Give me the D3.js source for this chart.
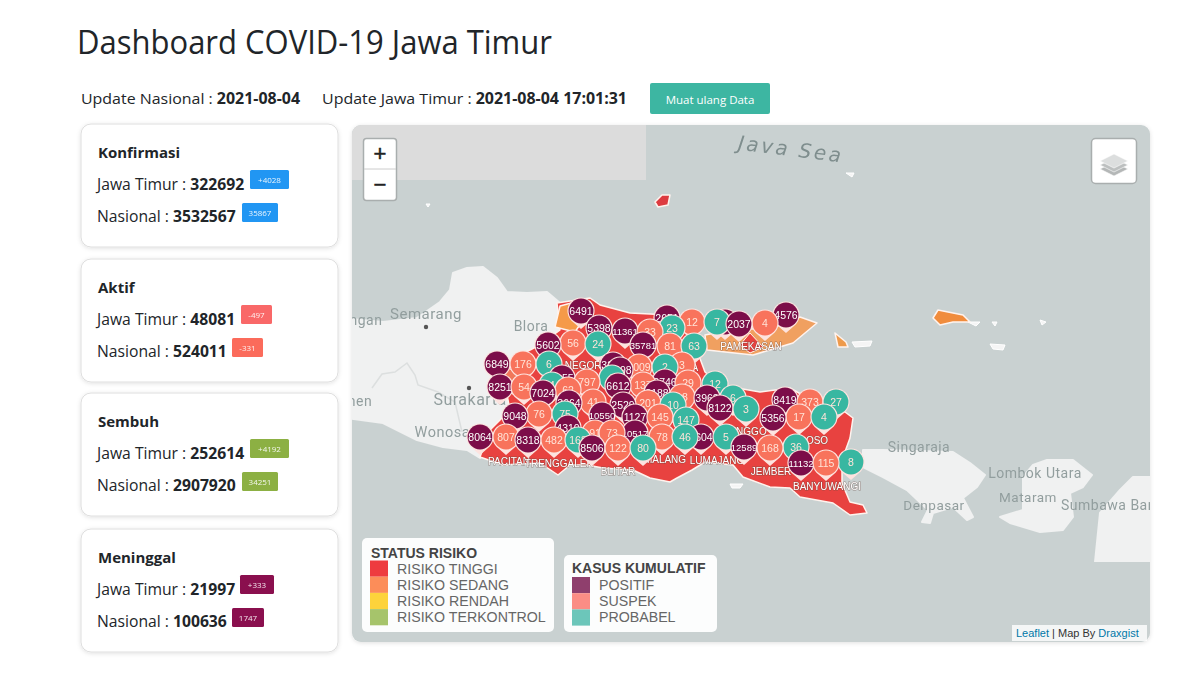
<!DOCTYPE html>
<html><head><meta charset="utf-8">
<script src="https://cdn.jsdelivr.net/npm/d3@7/dist/d3.min.js"></script>
<style>html,body{margin:0;padding:0;background:#fff}svg{display:block}</style>
</head><body><svg id="c" width="1200" height="675"></svg>
<script>
// ---------- dashboard data ----------
const cardTitles=["Konfirmasi","Aktif","Sembuh","Meninggal"];
const jatimValues=[322692,48081,252614,21997];
const nasionalValues=[3532567,524011,2907920,100636];
const jatimDeltas=["+4028","-497","+4192","+333"];
const nasionalDeltas=["35867","-331","34251","1747"];
const riskLabels=["RISIKO TINGGI","RISIKO SEDANG","RISIKO RENDAH","RISIKO TERKONTROL"];
const caseLabels=["POSITIF","SUSPEK","PROBABEL"];

// ---------- markers: [lon, lat, cumulative value] ----------
const positif=[[111.81,-6.69,6491],[111.99,-6.86,5398],[112.25,-6.89,11361],[112.43,-7.03,35781],[111.48,-7.03,5602],[110.97,-7.22,6849],[111.00,-7.45,8251],[111.43,-7.51,7024],[111.62,-7.36,4155],[112.13,-7.23,3274],[112.20,-7.28,4098],[112.18,-7.44,6612],[112.65,-7.40,2746],[112.23,-7.63,2529],[111.15,-7.74,9048],[111.69,-7.61,3664],[112.02,-7.73,10550],[112.57,-7.51,2188],[112.35,-7.75,1127],[112.67,-6.76,2651],[113.25,-6.80,2260],[113.39,-6.82,2037],[113.86,-6.73,4576],[113.07,-7.56,3962],[113.20,-7.66,8122],[113.85,-7.58,8419],[113.73,-7.76,5356],[110.80,-7.95,8064],[111.28,-7.98,8318],[111.92,-8.06,8506],[112.35,-7.91,10517],[113.01,-7.95,6604],[113.44,-8.05,12589],[114.01,-8.21,11132],[111.68,-7.86,4310]];
const suspek=[[112.50,-6.90,33],[111.73,-7.01,56],[112.70,-7.04,81],[111.23,-7.22,176],[112.39,-7.25,3009],[112.82,-7.23,3],[111.24,-7.45,54],[111.87,-7.40,797],[112.43,-7.43,137],[111.39,-7.72,76],[111.68,-7.48,62],[111.93,-7.60,41],[112.48,-7.61,201],[112.60,-7.75,145],[112.92,-6.80,12],[112.88,-7.41,29],[112.82,-7.55,18],[113.65,-6.81,4],[114.10,-7.60,373],[113.99,-7.75,17],[111.06,-7.95,807],[111.54,-7.98,482],[111.95,-7.91,91],[112.12,-7.91,73],[112.18,-8.06,122],[112.62,-7.95,78],[113.70,-8.06,168],[114.26,-8.21,115]];
const probabel=[[112.72,-6.86,23],[111.98,-7.02,24],[111.49,-7.22,6],[112.65,-7.25,2],[112.94,-7.04,63],[111.52,-7.43,4],[112.12,-7.36,9],[111.65,-7.72,75],[112.73,-7.63,10],[113.17,-6.80,7],[113.15,-7.42,12],[113.33,-7.56,6],[113.46,-7.67,3],[114.36,-7.60,27],[114.24,-7.75,4],[112.86,-7.78,147],[112.85,-7.95,46],[113.26,-7.95,5],[113.96,-8.05,36],[114.51,-8.20,8],[111.78,-7.98,168],[112.43,-8.06,80]];

// ---------- geography: [lon, lat] rings ----------
const centralJava=[[109.40,-6.76],[109.83,-6.80],[110.17,-6.76],[110.40,-6.60],[110.50,-6.48],[110.53,-6.31],[110.67,-6.26],[110.83,-6.25],[110.97,-6.36],[111.07,-6.50],[111.27,-6.51],[111.47,-6.50],[111.60,-6.61],[111.60,-7.58],[110.80,-8.16],[110.67,-8.08],[110.43,-8.05],[110.17,-7.98],[109.83,-7.81],[109.40,-7.75]];
const eastJava=[[111.57,-6.61],[111.90,-6.56],[112.00,-6.63],[112.30,-6.71],[112.70,-6.73],[112.90,-6.80],[112.95,-7.03],[113.05,-7.30],[113.20,-7.43],[113.60,-7.50],[113.90,-7.46],[114.20,-7.63],[114.45,-7.70],[114.53,-7.76],[114.50,-7.96],[114.42,-8.18],[114.42,-8.41],[114.50,-8.60],[114.63,-8.63],[114.67,-8.71],[114.50,-8.73],[114.33,-8.61],[114.00,-8.55],[113.90,-8.46],[113.70,-8.45],[113.43,-8.35],[113.33,-8.23],[113.05,-8.20],[112.92,-8.28],[112.77,-8.36],[112.70,-8.40],[112.50,-8.36],[112.33,-8.28],[112.03,-8.26],[111.87,-8.23],[111.70,-8.23],[111.58,-8.33],[111.40,-8.21],[111.03,-8.23],[110.80,-8.15],[110.90,-7.88],[111.10,-7.68],[111.05,-7.43],[111.10,-7.18],[111.40,-7.03],[111.60,-6.88]];
const tuban=[[111.60,-6.64],[111.75,-6.60],[111.85,-6.75],[111.75,-6.90],[111.55,-6.85]];
const ngawi=[[111.05,-7.25],[111.25,-7.33],[111.18,-7.55],[111.00,-7.45]];
const madura=[[113.07,-7.08],[113.53,-7.13],[113.93,-7.01],[114.17,-6.81],[114.00,-6.75],[113.73,-6.86],[113.30,-6.88],[113.05,-6.93]];
const pamekasan=[[113.50,-6.91],[113.63,-7.05],[113.50,-7.11],[113.40,-7.03]];
const bawean=[[112.55,-5.60],[112.62,-5.53],[112.70,-5.53],[112.68,-5.63],[112.58,-5.65]];
const kangean=[[115.33,-6.76],[115.38,-6.68],[115.63,-6.73],[115.70,-6.80],[115.53,-6.80],[115.40,-6.83]];
const sapudi=[[114.35,-6.91],[114.46,-7.00],[114.48,-7.05],[114.38,-7.05]];
const bali=[[114.63,-8.08],[114.83,-8.08],[115.53,-8.10],[115.70,-8.21],[115.85,-8.33],[115.77,-8.45],[115.63,-8.56],[115.73,-8.75],[115.67,-8.78],[115.53,-8.65],[115.33,-8.71],[115.30,-8.81],[115.22,-8.80],[115.28,-8.68],[115.07,-8.48],[114.83,-8.35],[114.63,-8.25]];
const lombok=[[116.47,-8.18],[116.73,-8.18],[116.92,-8.33],[116.83,-8.45],[116.70,-8.51],[116.73,-8.75],[116.63,-8.88],[116.40,-8.90],[116.10,-8.81],[116.00,-8.75],[116.23,-8.68],[116.23,-8.35],[116.33,-8.23]];
const sumbawa=[[117.33,-8.35],[117.70,-8.35],[117.70,-9.20],[116.95,-9.20],[117.00,-8.71],[117.20,-8.48]];
const smallIslands=[[[114.52,-7.00],[114.72,-6.99],[114.70,-7.04],[114.55,-7.05]],[[115.68,-6.80],[115.80,-6.80],[115.76,-6.84]],[[115.90,-7.02],[116.05,-7.03],[116.03,-7.08],[115.93,-7.07]],[[115.92,-6.80],[115.97,-6.80],[115.95,-6.84]],[[116.40,-6.78],[116.46,-6.80],[116.42,-6.83]],[[113.30,-8.42],[113.43,-8.42],[113.40,-8.46],[113.32,-8.46]],[[114.46,-5.31],[114.54,-5.31],[114.52,-5.35]],[[110.26,-5.62],[110.30,-5.62],[110.28,-5.65]]];
const provinceLine=[[109.72,-7.46],[109.82,-7.32],[109.95,-7.30],[110.07,-7.21],[110.15,-7.33],[110.18,-7.43],[110.38,-7.50],[110.55,-7.60],[110.62,-7.90]];
const cityNames=["ngan","Semarang","Blora","Surakarta","nen","Wonosari","Singaraja","Lombok Utara","Mataram","Sumbawa Bar","Denpasar"];
const cityLons=[109.66,110.26,111.31,110.70,109.60,110.47,115.19,116.35,116.28,117.07,115.34];
const cityLats=[-6.78,-6.72,-6.84,-7.58,-7.59,-7.90,-8.05,-8.31,-8.55,-8.63,-8.63];
const citySizes=[14,15,14,16,14,14.5,14,14,13.5,14,13.5];
const cityDots=[[110.26,-6.85],[110.69,-7.46]];
const regionNames=["PACITAN","TRENGGALEK","BLITAR","MALANG","LUMAJANG","JEMBER","BANYUWANGI","PAMEKASAN","NEGORO","INGGO","OSO","VA"];
const regionLons=[111.09,111.59,112.18,112.65,113.17,113.71,114.27,113.51,111.87,113.50,114.17,112.92];
const regionLats=[-8.20,-8.22,-8.30,-8.18,-8.19,-8.30,-8.45,-7.05,-7.24,-7.90,-7.99,-7.26];

// ---------- styles ----------
const F='"Open Sans",sans-serif', A='"Liberation Sans",Arial,sans-serif', R='Roboto,sans-serif';
const deltaColours=["#2196f3","#f96868","#8cb043","#8a0f4e"];
const riskColours=["#ee3b3f","#fc8d59","#fdd33b","#a6c46b"];
const caseColours=["#8f3f6d","#fb8d85","#6cc6ba"];
const pinColours={positif:"#7b1148",suspek:"#f8735c",probabel:"#37b7a1"};

const svg=d3.select("#c");
const x=d3.scaleLinear([110,116],[400,1000]);
const y=d3.scaleLinear([-6,-9],[242,542]);
const ring=d3.line().x(d=>x(d[0])).y(d=>y(d[1])).curve(d3.curveLinearClosed);
const open=d3.line().x(d=>x(d[0])).y(d=>y(d[1]));

function text(g,t,px,py,o={}){
  const n=g.append("text").attr("x",px).attr("y",py).text(t)
    .attr("font-family",o.f||F).attr("font-size",o.s||15).attr("fill",o.c||"#212529")
    .attr("font-weight",o.w||400).attr("text-anchor",o.a||"start");
  if(o.len) n.attr("textLength",o.len).attr("lengthAdjust","spacingAndGlyphs");
  return n;
}

// header
text(svg,"Dashboard COVID-19 Jawa Timur",77,54,{s:32,len:475});
function update(px,label,val,len){
  const t=text(svg,label,px,104,{s:15.2,len});
  t.append("tspan").attr("font-weight",700).text(val);
}
update(81,"Update Nasional : ","2021-08-04",219);
update(322,"Update Jawa Timur : ","2021-08-04 17:01:31",305);
svg.append("rect").attr("x",650).attr("y",83).attr("width",120).attr("height",31).attr("rx",2).attr("fill","#3db6a2");
text(svg,"Muat ulang Data",710,104,{s:11.5,c:"#fff",a:"middle"});

// cards
const defs=svg.append("defs");
const sh=defs.append("filter").attr("id","sh").attr("x","-10%").attr("y","-10%").attr("width","120%").attr("height","120%");
sh.append("feDropShadow").attr("dx",0).attr("dy",1).attr("stdDeviation",2).attr("flood-color","#000").attr("flood-opacity",.12);
defs.append("filter").attr("id","soft").attr("x","0").attr("y","0").attr("width","100%").attr("height","100%")
  .append("feGaussianBlur").attr("stdDeviation",.55);
const cardTops=[124,259,393,529], badgeW1=[39,31,39,34], badgeW2=[36,31,36,32], badgeX1=[250,241,250,240], badgeX2=[242,232,242,232];
cardTitles.forEach((title,i)=>{
  const g=svg.append("g").attr("transform",`translate(0,${cardTops[i]})`);
  g.append("rect").attr("x",81).attr("y",0).attr("width",257).attr("height",123).attr("rx",10).attr("fill","#fff").attr("stroke","#dedede").attr("filter","url(#sh)");
  text(g,title,98,34,{s:15,w:700});
  [[jatimValues,jatimDeltas,"Jawa Timur : ",66,badgeX1,badgeW1,46],[nasionalValues,nasionalDeltas,"Nasional : ",98,badgeX2,badgeW2,79]].forEach(([vals,ds,lab,by,bx,bw,bt],k)=>{
    const t=text(g,lab,97,by,{s:15.7});
    t.append("tspan").attr("font-weight",700).text(vals[i]);
    const col=(i===1&&k===1)?"#fb6b5b":deltaColours[i];
    g.append("rect").attr("x",bx[i]).attr("y",bt).attr("width",bw[i]).attr("height",19).attr("rx",1.5).attr("fill",col);
    text(g,ds[i],bx[i]+bw[i]/2,bt+12.5,{s:8,c:"#fff",a:"middle"}).attr("opacity",.9);
  });
});

// map panel
defs.append("clipPath").attr("id","mc").append("rect").attr("x",352).attr("y",125).attr("width",798).attr("height",517).attr("rx",9);
svg.append("rect").attr("x",352).attr("y",125).attr("width",798).attr("height",517).attr("rx",9).attr("fill","#c9d1d1").attr("filter","url(#sh)");
const clip=svg.append("g").attr("clip-path","url(#mc)");
const map=clip.append("g").attr("filter","url(#soft)");
map.append("rect").attr("x",352).attr("y",125).attr("width",294).attr("height",55).attr("fill","#dcdcdc");
const land="#f0f1f1";
[centralJava,bali,lombok,sumbawa].forEach(r=>map.append("path").attr("d",ring(r)).attr("fill",land).attr("stroke",land).attr("stroke-width",2).attr("stroke-linejoin","round"));
map.append("path").attr("d",open(provinceLine)).attr("fill","none").attr("stroke","#dcdfdf").attr("stroke-width",1.5);
smallIslands.forEach(r=>map.append("path").attr("d",ring(r)).attr("fill","#f5f5f5").attr("stroke","#fff"));
map.selectAll(".dot").data(cityDots).join("circle").attr("cx",d=>x(d[0])).attr("cy",d=>y(d[1])).attr("r",2.2).attr("fill","#555");
function poly(r,fill,sw=1.5){map.append("path").attr("d",ring(r)).attr("fill",fill).attr("stroke","#fff3ee").attr("stroke-width",sw).attr("stroke-linejoin","round");}
poly(eastJava,"#e8433f");
poly(tuban,"#f59a4a");poly(ngawi,"#f0775a",1);
poly(madura,"#f0a060");poly(pamekasan,"#e8433f",1);
poly(bawean,"#dd3b3f");poly(kangean,"#f08c3c");poly(sapudi,"#ee9a4c");

cityNames.forEach((n,i)=>{
  text(map,n,x(cityLons[i]),y(cityLats[i])+5,{f:R,s:citySizes[i],c:"#929e9e",a:"middle"}).attr("letter-spacing",.5);
});
text(map,"Java Sea",0,0,{f:'"DejaVu Sans",sans-serif',s:20,c:"#7f8e8e",a:"middle"})
  .attr("font-style","italic").attr("letter-spacing",2.5)
  .attr("transform",`translate(${x(113.90)},${y(-5.14)}) rotate(7)`);
regionNames.forEach((n,i)=>{
  text(map,n,x(regionLons[i]),y(regionLats[i])+3,{f:A,s:10,c:"#fff",a:"middle"})
    .attr("stroke","#6a4a44").attr("stroke-opacity",.55).attr("stroke-width",1.1).attr("paint-order","stroke");
});

// pin markers (drawn north to south, as the map stacks them)
const R0=13.6, RI=12.4, TIP=18;
function pin(){
  const a=0.8, p=d3.path();
  p.moveTo(0,TIP);
  p.lineTo(-R0*Math.sin(a),R0*Math.cos(a));
  p.arc(0,0,R0,Math.PI/2+a,Math.PI/2-a);
  p.closePath();
  return p.toString();
}
const pins=[].concat(
  positif.map(d=>({d,t:"positif"})),suspek.map(d=>({d,t:"suspek"})),probabel.map(d=>({d,t:"probabel"}))
).sort((a,b)=>d3.descending(a.d[1],b.d[1]));
const pg=map.selectAll(".pin").data(pins).join("g").attr("class","pin")
  .attr("transform",p=>`translate(${x(p.d[0])},${y(p.d[1])})`);
pg.append("path").attr("d",pin()).attr("fill","#fde3df");
pg.append("circle").attr("r",RI).attr("fill",p=>pinColours[p.t]);
pg.append("text").attr("text-anchor","middle").attr("y",3.5).attr("font-family",A).attr("font-size",p=>String(p.d[2]).length>4?9.5:10.5)
  .attr("fill",p=>p.t==="positif"?"#fff":"#ffe4d8").text(p=>p.d[2]);

// zoom control
const zc=svg.append("g");
zc.append("rect").attr("x",363.5).attr("y",138.5).attr("width",33).attr("height",62).attr("rx",3).attr("fill","#fff").attr("stroke","#a9aeae").attr("stroke-width",1.5);
zc.append("line").attr("x1",364).attr("x2",396).attr("y1",169).attr("y2",169).attr("stroke","#ccc");
text(zc,"+",380,161,{f:A,s:22,w:400,c:"#222",a:"middle"}).attr("stroke","#222").attr("stroke-width",.5);
text(zc,"\u2212",380,192,{f:A,s:22,w:400,c:"#222",a:"middle"}).attr("stroke","#222").attr("stroke-width",.5);
// layers control
const lc=svg.append("g");
lc.append("rect").attr("x",1091.5).attr("y",138.5).attr("width",45).attr("height",45).attr("rx",4).attr("fill","#fff").attr("stroke","#a9aeae").attr("stroke-width",1.5);
[173,169,165].forEach((cy,i)=>lc.append("path")
  .attr("d",`M1100 ${cy-7}L1114 ${cy-14}L1128 ${cy-7}L1114 ${cy}Z`)
  .attr("transform","translate(0,3)").attr("fill",["#b4b7b7","#bdc0c0","#dcdede"][i]).attr("stroke","#fff").attr("stroke-width",.6));

// legends
function legend(bx,by,bw,bh,title,tx,ty,labels,cols,sx,ry,lx){
  const g=svg.append("g");
  g.append("rect").attr("x",bx).attr("y",by).attr("width",bw).attr("height",bh).attr("rx",5).attr("fill","#fff").attr("opacity",.95);
  text(g,title,tx,ty,{f:A,s:14,w:700,c:"#444"});
  labels.forEach((l,i)=>{
    g.append("rect").attr("x",sx).attr("y",ry+i*16.2).attr("width",18).attr("height",16.2).attr("fill",cols[i]);
    text(g,l,lx,ry+i*16.2+13,{f:A,s:14.2,c:"#666"});
  });
}
legend(362,538,192,94,"STATUS RISIKO",371,558,riskLabels,riskColours,370,560.5,397);
legend(564,555,153,77,"KASUS KUMULATIF",572,573,caseLabels,caseColours,572,577,599);

// attribution
const at=svg.append("g");
at.append("rect").attr("x",1012).attr("y",625).attr("width",135).attr("height",16).attr("fill","#fff").attr("opacity",.8);
const att=text(at,"Leaflet",1016,637,{f:A,s:11,c:"#0078a8"});
att.append("tspan").attr("fill","#333").text(" | Map By ");
att.append("tspan").attr("fill","#0078a8").text("Draxgist");
</script></body></html>
